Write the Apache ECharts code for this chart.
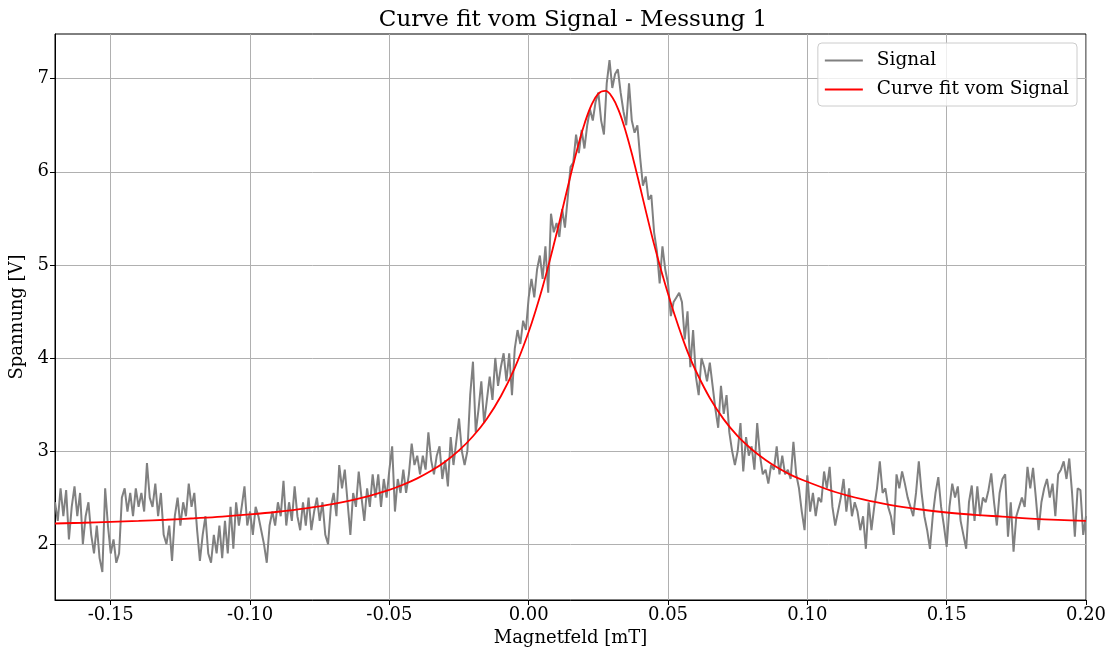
<!DOCTYPE html>
<html>
<head>
<meta charset="utf-8">
<script src="https://cdn.jsdelivr.net/npm/echarts@6/dist/echarts.min.js"></script>
<style>
html,body{margin:0;padding:0;background:#fff;}
#chart{width:1113px;height:647px;}
</style>
</head>
<body>
<div id="chart"></div>
<script>
// ---- data ----
const titleText = 'Curve fit vom Signal - Messung 1';
const xLabel = 'Magnetfeld [mT]';
const yLabel = 'Spannung [V]';
const seriesNames = ['Signal', 'Curve fit vom Signal'];
const xTicks = [-0.15, -0.10, -0.05, 0.00, 0.05, 0.10, 0.15, 0.20];
const yTicks = [2, 3, 4, 5, 6, 7];

// Signal: samples every 0.001 mT starting at -0.170
const signalStart = -0.170;
const signalStep = 0.001;
const signalY = [
  2.45, 2.25, 2.6, 2.3, 2.58, 2.05, 2.4, 2.62, 2.3, 2.55,
  2.0, 2.3, 2.45, 2.1, 1.9, 2.2, 1.85, 1.7, 2.6, 2.2,
  1.9, 2.05, 1.8, 1.9, 2.5, 2.6, 2.35, 2.55, 2.3, 2.6,
  2.4, 2.55, 2.35, 2.87, 2.5, 2.4, 2.65, 2.3, 2.55, 2.1,
  2.0, 2.2, 1.82, 2.3, 2.5, 2.2, 2.45, 2.3, 2.65, 2.4,
  2.55, 2.15, 1.82, 2.1, 2.3, 1.9, 1.8, 2.1, 1.9, 2.2,
  1.85, 2.25, 1.9, 2.4, 1.95,
  2.45, 2.2, 2.4, 2.62, 2.2,
  2.35, 2.1, 2.4, 2.3, 2.15, 2.0, 1.8, 2.2, 2.35, 2.2,
  2.45, 2.3, 2.68, 2.2, 2.45, 2.25, 2.62, 2.3, 2.15, 2.45,
  2.2, 2.5, 2.15, 2.35, 2.5, 2.25, 2.45, 2.1, 2.0, 2.4,
  2.55, 2.3, 2.85, 2.6, 2.8, 2.45, 2.1, 2.55, 2.4, 2.78,
  2.5, 2.25, 2.6, 2.4, 2.75, 2.5, 2.75, 2.4, 2.7, 2.5,
  2.8, 3.05, 2.35, 2.7, 2.55, 2.8, 2.55, 2.75,
  3.08, 2.85, 2.95, 2.75, 2.95, 2.8, 3.2, 2.9, 2.75, 2.95,
  3.05, 2.7, 2.9, 2.62, 3.15, 2.85, 3.1, 3.35, 3.0, 2.85,
  3.0, 3.6, 3.96, 3.2, 3.45, 3.75, 3.3, 3.55, 3.8, 3.55,
  4.0, 3.7, 3.9, 4.05, 3.75, 4.05, 3.6, 4.1, 4.3, 4.15,
  4.4, 4.3, 4.65,
  4.85, 4.65, 4.95, 5.1, 4.85, 5.2, 4.7, 5.55, 5.35, 5.45,
  5.3, 5.6, 5.4, 5.72, 6.05, 6.1, 6.4, 6.2, 6.45, 6.25,
  6.5, 6.67, 6.55, 6.75, 6.85, 6.55, 6.4, 6.95, 7.2, 6.9,
  7.05, 7.1, 6.85, 6.65, 6.5, 6.95, 6.55, 6.42, 6.5, 6.15,
  5.85, 5.95, 5.7, 5.75, 5.35, 5.15, 4.8, 5.2, 4.95, 4.8,
  4.45, 4.6, 4.65, 4.7, 4.6, 4.2, 4.5, 3.9, 4.3, 3.8,
  3.6, 4.0, 3.9, 3.75, 3.95, 3.7, 3.45, 3.25, 3.7, 3.4,
  3.6, 3.2, 3.0, 2.85, 3.0, 3.3, 2.78, 3.15, 2.95, 3.05,
  2.8, 3.3, 2.95, 2.75, 2.8, 2.65, 2.85, 2.8, 3.05, 2.75,
  2.95, 2.75, 2.8, 2.7, 3.1, 2.75, 2.6,
  2.35, 2.15, 2.74,
  2.35, 2.55, 2.3, 2.5, 2.45, 2.78, 2.6, 2.83, 2.4, 2.2,
  2.35, 2.5, 2.7, 2.35, 2.6, 2.3, 2.45, 2.35, 2.15, 2.3,
  1.95, 2.45, 2.15, 2.4, 2.6, 2.89, 2.55, 2.6, 2.4, 2.3,
  2.1, 2.75, 2.6, 2.78, 2.65, 2.5, 2.4, 2.3, 2.55, 2.89,
  2.55, 2.3, 2.15, 1.95, 2.3, 2.55, 2.72, 2.4, 2.2, 1.97,
  2.4, 2.65, 2.5, 2.62, 2.25, 2.1, 1.95, 2.45, 2.63, 2.25,
  2.62, 2.3, 2.5, 2.45, 2.58, 2.76, 2.45, 2.2, 2.55, 2.7,
  2.75, 2.08, 2.45, 1.92, 2.3, 2.4, 2.5, 2.4, 2.83, 2.6,
  2.82, 2.5, 2.15, 2.45, 2.6, 2.7, 2.5, 2.65, 2.3, 2.75,
  2.8, 2.89, 2.7, 2.92, 2.55, 2.08, 2.6, 2.58, 2.1, 2.3
];

// Fit curve
const fitX = [
  -0.17, -0.16, -0.15, -0.14, -0.13, -0.12, -0.11, -0.10, -0.09, -0.08,
  -0.07, -0.06, -0.05, -0.045, -0.04, -0.035, -0.03, -0.025, -0.02, -0.015,
  -0.01, -0.005, 0.0, 0.0025, 0.005, 0.0075, 0.01, 0.0125, 0.015, 0.0175,
  0.02, 0.0225, 0.025, 0.0275, 0.03, 0.0325, 0.035, 0.0375, 0.04, 0.0425,
  0.045, 0.0475, 0.05, 0.0525, 0.055, 0.0575, 0.06, 0.065, 0.07, 0.075,
  0.08, 0.085, 0.09, 0.095, 0.10, 0.11, 0.12, 0.13, 0.14, 0.15,
  0.16, 0.17, 0.18, 0.19, 0.20
];
const fitY = [
  2.222, 2.230, 2.239, 2.249, 2.262, 2.278, 2.296, 2.319, 2.348, 2.385,
  2.433, 2.497, 2.584, 2.640, 2.707, 2.788, 2.886, 3.007, 3.159, 3.348,
  3.589, 3.894, 4.281, 4.510, 4.763, 5.040, 5.336, 5.646, 5.957, 6.253,
  6.514, 6.716, 6.839, 6.868, 6.800, 6.644, 6.415, 6.138, 5.833, 5.521,
  5.220, 4.945, 4.690, 4.450, 4.230, 4.030, 3.860, 3.570, 3.340, 3.160,
  3.020, 2.905, 2.810, 2.730, 2.670, 2.560, 2.480, 2.420, 2.375, 2.340,
  2.315, 2.295, 2.275, 2.260, 2.250
];

// ---- build ----
const signalData = signalY.map((v, i) => [+(signalStart + i * signalStep).toFixed(4), v]);
const fitData = fitX.map((x, i) => [x, fitY[i]]);

const FONT = 'DejaVu Serif';
const chart = echarts.init(document.getElementById('chart'), null, {renderer: 'canvas'});
chart.setOption({
  animation: false,
  backgroundColor: '#ffffff',
  title: {
    text: titleText,
    left: 568, top: 4, textAlign: 'center',
    textStyle: {fontFamily: FONT, fontSize: 23, fontWeight: 'normal', color: '#000'}
  },
  legend: {
    orient: 'vertical',
    right: 36, top: 43,
    data: seriesNames,
    icon: 'rect',
    itemWidth: 38, itemHeight: 2,
    itemGap: 10,
    padding: [8, 8, 7, 7],
    backgroundColor: 'rgba(255,255,255,0.8)',
    borderColor: '#cccccc', borderWidth: 1, borderRadius: 4,
    textStyle: {fontFamily: FONT, fontSize: 18.5, color: '#000', padding: [0, 0, 0, 9]}
  },
  grid: {
    left: 55, right: 27, top: 34, bottom: 47,
    outerBoundsMode: 'none', containLabel: false,
    show: true, borderColor: '#000', borderWidth: 1, backgroundColor: 'transparent'
  },
  xAxis: {
    type: 'value', min: -0.17, max: 0.2,
    name: xLabel, nameLocation: 'middle', nameGap: 29,
    nameTextStyle: {fontFamily: FONT, fontSize: 18, color: '#000'},
    axisLine: {show: true, onZero: false, lineStyle: {color: '#000', width: 1}},
    axisTick: {show: true, inside: false, length: 5, customValues: xTicks, lineStyle: {color: '#000', width: 1}},
    axisLabel: {show: true, customValues: xTicks, margin: 6, fontFamily: FONT, fontSize: 18, color: '#000',
      formatter: v => v.toFixed(2)},
    splitLine: {show: true, lineStyle: {color: '#b0b0b0', width: 1}}
  },
  yAxis: {
    type: 'value', min: 1.4, max: 7.48,
    name: yLabel, nameLocation: 'middle', nameGap: 21, nameRotate: 90,
    nameTextStyle: {fontFamily: FONT, fontSize: 18, color: '#000'},
    axisLine: {show: true, onZero: false, lineStyle: {color: '#000', width: 1}},
    axisTick: {show: true, inside: false, length: 5, customValues: yTicks, lineStyle: {color: '#000', width: 1}},
    axisLabel: {show: true, customValues: yTicks, margin: 6, fontFamily: FONT, fontSize: 18, color: '#000',
      formatter: v => String(v)},
    splitLine: {show: true, lineStyle: {color: '#b0b0b0', width: 1}}
  },
  series: [
    {
      name: seriesNames[0], type: 'line', data: signalData,
      symbol: 'none', showSymbol: false,
      lineStyle: {color: '#808080', width: 2}, itemStyle: {color: '#808080'},
      z: 2
    },
    {
      name: seriesNames[1], type: 'line', data: fitData,
      symbol: 'none', showSymbol: false, smooth: 0.4,
      lineStyle: {color: '#ff0000', width: 1.8}, itemStyle: {color: '#ff0000'},
      z: 3
    }
  ]
});
</script>
</body>
</html>
